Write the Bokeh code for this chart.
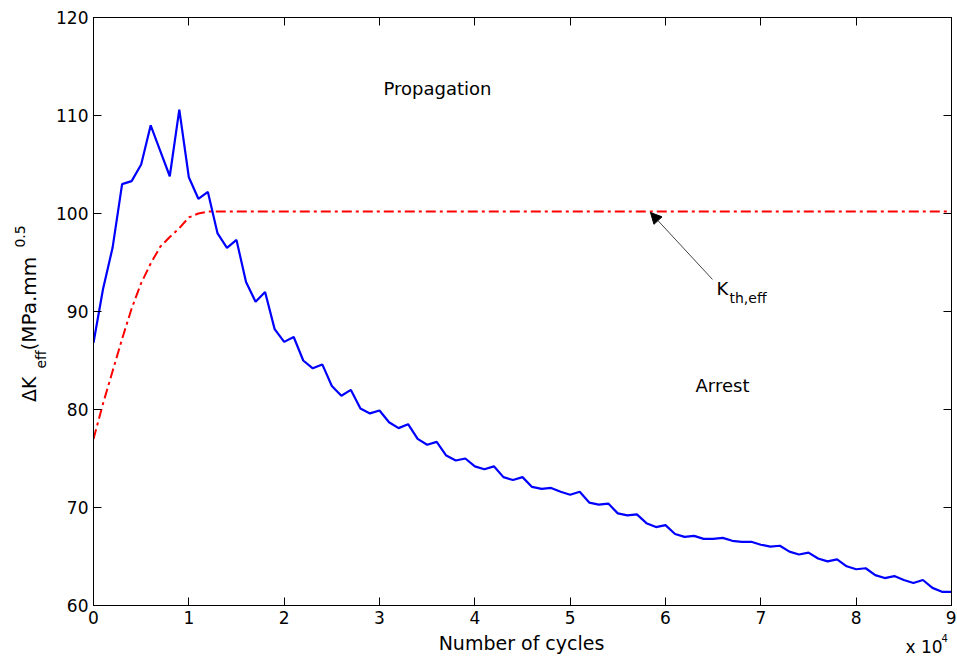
from bokeh.plotting import figure
from bokeh.models import (LinearAxis, FixedTicker, Label, Arrow, NormalHead, Range1d)
from bokeh.layouts import row, column
from bokeh.embed import file_html
from bokeh.resources import INLINE
import math

# ---- data ----
cycles = [0, 1000, 2000, 3000, 4000, 5000, 6000, 7000, 8000, 9000,
          10000, 11000, 12000, 13000, 14000, 15000, 16000, 17000, 18000, 19000,
          20000, 21000, 22000, 23000, 24000, 25000, 26000, 27000, 28000, 29000,
          30000, 31000, 32000, 33000, 34000, 35000, 36000, 37000, 38000, 39000,
          40000, 41000, 42000, 43000, 44000, 45000, 46000, 47000, 48000, 49000,
          50000, 51000, 52000, 53000, 54000, 55000, 56000, 57000, 58000, 59000,
          60000, 61000, 62000, 63000, 64000, 65000, 66000, 67000, 68000, 69000,
          70000, 71000, 72000, 73000, 74000, 75000, 76000, 77000, 78000, 79000,
          80000, 81000, 82000, 83000, 84000, 85000, 86000, 87000, 88000, 89000,
          90000]
dk_eff = [86.8, 92.3, 96.5, 103.0, 103.3, 105.0, 109.0, 106.4, 103.8, 110.6,
          103.7, 101.5, 102.2, 98.0, 96.5, 97.3, 93.0, 91.0, 92.0, 88.2,
          86.9, 87.4, 85.0, 84.2, 84.6, 82.4, 81.4, 82.0, 80.1, 79.6,
          79.9, 78.7, 78.1, 78.5, 77.0, 76.4, 76.7, 75.3, 74.8, 75.0,
          74.2, 73.9, 74.2, 73.1, 72.8, 73.1, 72.1, 71.9, 72.0, 71.6,
          71.3, 71.6, 70.5, 70.3, 70.4, 69.4, 69.2, 69.3, 68.4, 68.0,
          68.2, 67.3, 67.0, 67.1, 66.8, 66.8, 66.9, 66.6, 66.5, 66.5,
          66.2, 66.0, 66.1, 65.5, 65.2, 65.4, 64.8, 64.5, 64.7, 64.0,
          63.7, 63.8, 63.1, 62.8, 63.0, 62.6, 62.3, 62.6, 61.8, 61.4,
          61.4]

th_cycles = [0, 1000, 2000, 3000, 4000, 5000, 6000, 7000, 8000, 9000,
             10000, 11000, 12000, 13000, 90000]
k_th_eff = [77.0, 80.6, 83.9, 87.2, 90.3, 92.9, 94.9, 96.6, 97.6, 98.5,
            99.6, 100.0, 100.2, 100.2, 100.2]

x_ticks = [0, 10000, 20000, 30000, 40000, 50000, 60000, 70000, 80000, 90000]
x_tick_labels = ["0", "1", "2", "3", "4", "5", "6", "7", "8", "9"]
y_ticks = [60, 70, 80, 90, 100, 110, 120]

FONT = "DejaVu Sans"

# layout sizes (px)
LEFT_W = 53
MAIN_W = 903
TOP_H = 631
BOT_H = 30


def helper(width, height):
    f = figure(width=width, height=height, x_range=Range1d(0, width), y_range=Range1d(height, 0),
               output_backend="svg", toolbar_location=None,
               x_axis_location=None, y_axis_location=None,
               min_border=0, min_border_left=0, min_border_right=0,
               min_border_top=0, min_border_bottom=0)
    f.grid.visible = False
    f.outline_line_color = None
    f.background_fill_color = "white"
    f.border_fill_color = "white"
    return f


# ---------------- main plot ----------------
p = figure(width=MAIN_W, height=TOP_H, x_range=Range1d(0, 90000), y_range=Range1d(60, 120),
           output_backend="svg", toolbar_location=None,
           min_border_left=40, min_border_right=5, min_border_top=17, min_border_bottom=26)
p.background_fill_color = "white"
p.border_fill_color = "white"
p.outline_line_color = "black"
p.outline_line_width = 1
p.grid.visible = False

xa = p.xaxis[0]
xa.ticker = FixedTicker(ticks=x_ticks)
xa.major_label_overrides = {t: l for t, l in zip(x_ticks, x_tick_labels)}
xa.major_label_text_font = FONT
xa.major_label_text_font_size = "17px"
xa.major_label_standoff = 5

ya = p.yaxis[0]
ya.ticker = FixedTicker(ticks=y_ticks)
ya.major_label_text_font = FONT
ya.major_label_text_font_size = "17px"
ya.major_label_standoff = 5

for ax in (xa, ya):
    ax.major_tick_in = 8
    ax.major_tick_out = 0
    ax.minor_tick_line_color = None
    ax.axis_line_color = "black"
    ax.major_tick_line_color = "black"
    ax.major_label_text_color = "black"

top = LinearAxis(ticker=FixedTicker(ticks=x_ticks), major_label_text_font_size="0px",
                 major_label_text_color=None, major_label_standoff=0,
                 major_tick_in=8, major_tick_out=0,
                 minor_tick_line_color=None, axis_line_color="black")
right = LinearAxis(ticker=FixedTicker(ticks=y_ticks), major_label_text_font_size="0px",
                   major_label_text_color=None, major_label_standoff=0,
                   major_tick_in=8, major_tick_out=0,
                   minor_tick_line_color=None, axis_line_color="black")
p.add_layout(top, "above")
p.add_layout(right, "right")

p.line(th_cycles, k_th_eff, line_color="red", line_width=2, line_dash="10 4 3 4")
p.line(cycles, dk_eff, line_color="blue", line_width=2.2)

p.add_layout(Label(x=36084, y=112.76, text="Propagation", text_font=FONT, text_font_size="18px",
                   text_align="center", text_baseline="middle", text_color="black"))
p.add_layout(Label(x=65979, y=82.45, text="Arrest", text_font=FONT, text_font_size="18px",
                   text_align="center", text_baseline="middle", text_color="black"))
p.add_layout(Label(x=65350, y=92.35, text="K", text_font=FONT, text_font_size="18px",
                   text_align="left", text_baseline="middle", text_color="black"))
p.add_layout(Label(x=66713, y=91.38, text="th,eff", text_font=FONT, text_font_size="14px",
                   text_align="left", text_baseline="middle", text_color="black"))
p.add_layout(Arrow(x_start=64930, y_start=93.27, x_end=58427, y_end=100.1,
                   line_color="#444444", line_width=1,
                   end=NormalHead(size=11, fill_color="black", line_color="black", line_width=1)))

# ---------------- y-axis label (left strip) ----------------
lf = helper(LEFT_W, TOP_H)
ang = math.pi / 2
lf.add_layout(Label(x=28.5, y=399, text="ΔK", angle=ang, text_font=FONT, text_font_size="19px",
                    text_align="center", text_baseline="middle", text_color="black"))
lf.add_layout(Label(x=40, y=367, text="eff", angle=ang, text_font=FONT, text_font_size="14px",
                    text_align="center", text_baseline="middle", text_color="black"))
lf.add_layout(Label(x=28.5, y=307, text="(MPa.mm", angle=ang, text_font=FONT, text_font_size="20px",
                    text_align="center", text_baseline="middle", text_color="black"))
lf.add_layout(Label(x=19, y=235, text="0.5", angle=ang, text_font=FONT, text_font_size="14px",
                    text_align="center", text_baseline="middle", text_color="black"))

# ---------------- x-axis label strip ----------------
bf = helper(LEFT_W + MAIN_W, BOT_H)
bf.add_layout(Label(x=521, y=11, text="Number of cycles", text_font=FONT, text_font_size="19px",
                    text_align="center", text_baseline="middle", text_color="black"))
bf.add_layout(Label(x=905, y=15.5, text="x 10", text_font=FONT, text_font_size="17px",
                    text_align="left", text_baseline="middle", text_color="black"))
bf.add_layout(Label(x=941, y=6, text="4", text_font=FONT, text_font_size="10px",
                    text_align="left", text_baseline="middle", text_color="black"))

layout = column(row(lf, p, spacing=0), bf, spacing=0)

open("out.html", "w").write(file_html(layout, INLINE))
